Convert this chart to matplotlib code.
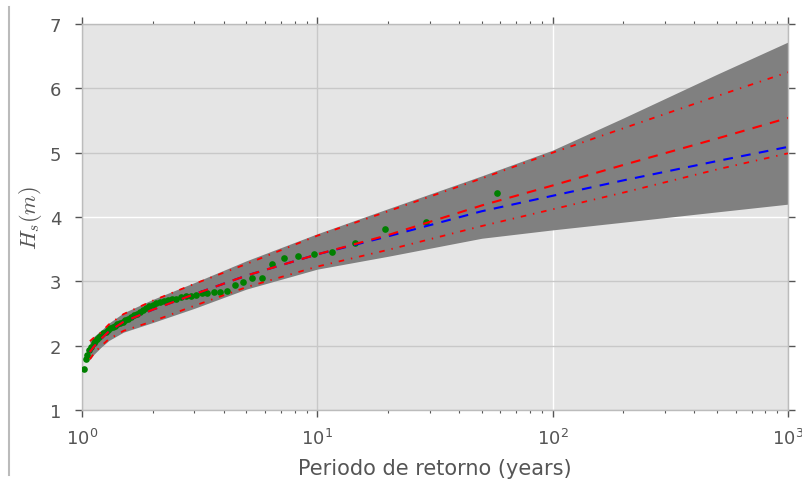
import matplotlib
matplotlib.use("Agg")
import matplotlib.pyplot as plt
from matplotlib.lines import Line2D

plt.rcParams["lines.scale_dashes"] = False

# Observed annual maxima (sorted, largest first) and their return periods
obs_T = [58.0, 29.0, 19.3, 14.5, 11.6, 9.67, 8.29, 7.25, 6.44, 5.8,
         5.27, 4.83, 4.46, 4.14, 3.87, 3.63, 3.41, 3.22, 3.05, 2.9,
         2.76, 2.64, 2.52, 2.42, 2.32, 2.23, 2.15, 2.07, 2.0, 1.93,
         1.87, 1.81, 1.76, 1.71, 1.66, 1.61, 1.57, 1.53, 1.49, 1.45,
         1.41, 1.38, 1.35, 1.32, 1.29, 1.26, 1.23, 1.21, 1.18, 1.16,
         1.14, 1.12, 1.09, 1.07, 1.05, 1.04, 1.02]
obs_H = [4.38, 3.92, 3.81, 3.59, 3.46, 3.43, 3.40, 3.37, 3.27, 3.05,
         3.05, 2.99, 2.95, 2.85, 2.84, 2.84, 2.82, 2.82, 2.79, 2.78,
         2.77, 2.76, 2.73, 2.72, 2.71, 2.69, 2.68, 2.67, 2.64, 2.62,
         2.59, 2.56, 2.52, 2.50, 2.47, 2.44, 2.42, 2.40, 2.37, 2.36,
         2.33, 2.31, 2.29, 2.27, 2.25, 2.22, 2.19, 2.17, 2.13, 2.10,
         2.07, 2.04, 1.98, 1.94, 1.86, 1.80, 1.63]

# Fitted return-level curves
T_fit = [1.08, 1.12, 1.2, 1.3, 1.5, 2.0, 3.0, 5.0, 10.0, 20.0,
         50.0, 100.0, 200.0, 500.0, 1000.0]
H_blue = [1.90, 1.98, 2.10, 2.22, 2.37, 2.56, 2.80, 3.09, 3.42, 3.70,
          4.09, 4.33, 4.57, 4.87, 5.09]
H_red = [1.90, 1.98, 2.10, 2.22, 2.37, 2.56, 2.80, 3.09, 3.42, 3.72,
         4.18, 4.49, 4.81, 5.22, 5.54]
H_red_up = [2.07, 2.12, 2.20, 2.33, 2.49, 2.70, 2.96, 3.27, 3.71, 4.09,
            4.60, 5.00, 5.38, 5.88, 6.25]
H_red_lo = [1.79, 1.87, 1.99, 2.10, 2.23, 2.38, 2.62, 2.91, 3.23, 3.49,
            3.86, 4.12, 4.38, 4.74, 4.99]
band_lo = [1.78, 1.86, 1.97, 2.08, 2.21, 2.36, 2.58, 2.88, 3.19, 3.39,
           3.67, 3.80, 3.92, 4.08, 4.20]
band_hi = [2.09, 2.14, 2.23, 2.35, 2.51, 2.72, 2.98, 3.32, 3.74, 4.13,
           4.64, 5.04, 5.54, 6.22, 6.72]

y_ticks = [1, 2, 3, 4, 5, 6, 7]

label_gray = "#555555"

fig = plt.figure(figsize=(8.03, 4.81), dpi=100)
ax = fig.add_axes([0.1021, 0.1455, 0.8792, 0.8025])
ax.set_facecolor("#E5E5E5")
ax.set_axisbelow(True)

ax.fill_between(T_fit, band_lo, band_hi, color="#808080", linewidth=0, zorder=2)
ax.plot(obs_T, obs_H, "o", color="green", markersize=4.8, markeredgewidth=0, zorder=3)
ax.plot(T_fit, H_blue, color="blue", linewidth=1.5, dashes=(7, 6), zorder=4)
ax.plot(T_fit, H_red, color="red", linewidth=1.5, dashes=(7, 6), zorder=5)
ax.plot(T_fit, H_red_up, color="red", linewidth=1.3, dashes=(4, 5, 1, 5), zorder=5)
ax.plot(T_fit, H_red_lo, color="red", linewidth=1.3, dashes=(4, 5, 1, 5), zorder=5)

ax.set_xscale("log")
ax.set_xlim(1, 1000)
ax.set_ylim(1, 7)
ax.set_yticks(y_ticks)

ax.grid(True, which="major", color="#c8c8c8", linewidth=1.0, linestyle="-")
for gl, val in zip(ax.get_ygridlines(), y_ticks):
    if val == 4:
        gl.set_color("white")
for gl, val in zip(ax.get_xgridlines(), ax.get_xticks()):
    if abs(val - 100) < 1e-6:
        gl.set_color("white")

for s in ax.spines.values():
    s.set_color("#bcbcbc")
    s.set_linewidth(1.0)

ax.tick_params(which="both", direction="out", colors=label_gray,
               top=True, right=True, labelsize=13)
ax.tick_params(which="major", length=5, width=1)
ax.tick_params(which="minor", length=2.5, width=0.8)
ax.tick_params(axis="y", pad=10)
ax.tick_params(axis="x", pad=8)

ax.set_xlabel("Periodo de retorno (years)", fontsize=15, color=label_gray, labelpad=7)
ax.set_ylabel("$H_s(m)$", fontsize=16, color=label_gray, labelpad=4,
              math_fontfamily="cm")

fig.add_artist(Line2D([9 / 803, 9 / 803], [1 - 476 / 481, 1 - 8 / 481],
                      transform=fig.transFigure, color="#bbbbbb", linewidth=1.5))

fig.savefig("out.png", dpi=100)
